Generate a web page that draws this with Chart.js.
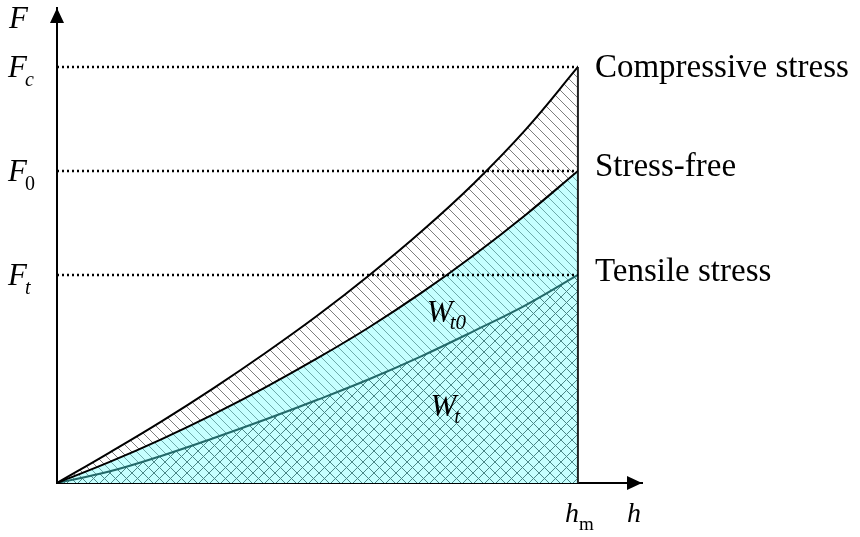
<!DOCTYPE html>
<html>
<head>
<meta charset="utf-8">
<script src="https://cdn.jsdelivr.net/npm/chart.js@4.4.0/dist/chart.umd.min.js"></script>
<style>
  html, body { margin: 0; padding: 0; background: #fff; }
</style>
</head>
<body>
<canvas id="chart" width="860" height="537"></canvas>
<script>
// indentation depth h (hm = 1) and load F
const depth = [0, 0.1, 0.2, 0.3, 0.4, 0.5, 0.6, 0.7, 0.8, 0.9, 1.0];
const compressive = [0, 0.29, 0.59, 0.91, 1.25, 1.61, 2.00, 2.42, 2.88, 3.40, 4.00];
const stressFree  = [0, 0.20, 0.42, 0.66, 0.92, 1.20, 1.50, 1.83, 2.19, 2.58, 3.00];
const tensile     = [0, 0.11, 0.26, 0.43, 0.61, 0.80, 1.00, 1.22, 1.46, 1.71, 2.00];

const hm = 1;
const levelValues = [4, 3, 2];            // Fc, F0, Ft
const levelSubs = ['c', '0', 't'];
const levelNames = ['Compressive stress', 'Stress-free', 'Tensile stress'];
const nameOffsets = [10, 5, 6];            // baseline shift of the names, px

const SERIF = '"Liberation Serif", "Times New Roman", serif';
const CYAN = 'rgb(198,255,255)';

function pts(ys) { return depth.map((x, i) => ({ x: x, y: ys[i] })); }

function hatch(ctx, bg, color, size, dirs, lw) {
  const c = document.createElement('canvas');
  c.width = size; c.height = size;
  const g = c.getContext('2d');
  if (bg) { g.fillStyle = bg; g.fillRect(0, 0, size, size); }
  g.strokeStyle = color;
  g.lineWidth = lw;
  for (const off of [-size, 0, size]) {
    if (dirs.includes('\\')) {
      g.beginPath(); g.moveTo(off, 0); g.lineTo(off + size, size); g.stroke();
    }
    if (dirs.includes('/')) {
      g.beginPath(); g.moveTo(off, size); g.lineTo(off + size, 0); g.stroke();
    }
  }
  return ctx.createPattern(c, 'repeat');
}

const canvas = document.getElementById('chart');
const ctx = canvas.getContext('2d');
const grayHatch = hatch(ctx, '#fff', 'rgb(125,125,125)', 10, '\\', 1);
const cyanHatch = hatch(ctx, CYAN, 'rgb(110,170,170)', 9, '\\', 1);
const cyanCross = hatch(ctx, CYAN, 'rgb(75,135,135)', 11, '\\/', 1);

function drawParts(c, parts, x, y) {
  let cx = x;
  for (const p of parts) {
    c.font = (p.it ? 'italic ' : '') + p.size + 'px ' + SERIF;
    c.fillText(p.t, cx, y + (p.dy || 0));
    cx += c.measureText(p.t).width + (p.gap || 0);
  }
}

const decor = {
  id: 'decor',
  afterDraw(chart) {
    const c = chart.ctx;
    const xs = chart.scales.x, ys = chart.scales.y;
    const x0 = xs.getPixelForValue(0), y0 = ys.getPixelForValue(0);
    c.save();
    c.fillStyle = '#000';
    // arrow heads
    c.beginPath();
    c.moveTo(x0, ys.top); c.lineTo(x0 - 7, ys.top + 15); c.lineTo(x0 + 7, ys.top + 15);
    c.closePath(); c.fill();
    c.beginPath();
    c.moveTo(xs.right, y0); c.lineTo(xs.right - 15, y0 - 7); c.lineTo(xs.right - 15, y0 + 7);
    c.closePath(); c.fill();

    c.textBaseline = 'alphabetic';
    c.textAlign = 'left';
    // axis names
    drawParts(c, [{ t: 'F', size: 31, it: true }], 9, 28);
    drawParts(c, [{ t: 'h', size: 28, it: true }], xs.right - 15, y0 + 39);
    drawParts(c, [{ t: 'h', size: 28, it: true }, { t: 'm', size: 19, dy: 8 }],
      xs.getPixelForValue(hm) - 13, y0 + 39);

    // force levels
    levelValues.forEach((v, i) => {
      const py = ys.getPixelForValue(v);
      drawParts(c, [{ t: 'F', size: 31, it: true, gap: -2 },
                    { t: levelSubs[i], size: 20, it: levelSubs[i] !== '0', dy: 9 }], 8, py + 10);
      c.font = '33px ' + SERIF;
      c.fillText(levelNames[i], xs.getPixelForValue(hm) + 17, py + nameOffsets[i]);
    });

    // work areas
    drawParts(c, [{ t: 'W', size: 31, it: true, gap: -3 }, { t: 't0', size: 21, it: true, dy: 7 }],
      xs.getPixelForValue(0.71), ys.getPixelForValue(1.55));
    drawParts(c, [{ t: 'W', size: 31, it: true, gap: -2 }, { t: 't', size: 21, it: true, dy: 7 }],
      xs.getPixelForValue(0.717), ys.getPixelForValue(0.64));
    c.restore();
  }
};

const curveBase = { pointRadius: 0, tension: 0.4, borderJoinStyle: 'round' };
const dotted = v => ({
  data: [{ x: 0, y: v }, { x: hm, y: v }],
  borderColor: '#000', borderWidth: 2.5, borderDash: [2, 3], pointRadius: 0, fill: false, order: 0
});

new Chart(ctx, {
  type: 'line',
  data: {
    datasets: [
      Object.assign({ data: pts(compressive), borderColor: '#000', borderWidth: 2,
        fill: '+1', backgroundColor: grayHatch, order: 1 }, curveBase),
      Object.assign({ data: pts(stressFree), borderColor: '#000', borderWidth: 2,
        fill: '+1', backgroundColor: cyanHatch, order: 1 }, curveBase),
      Object.assign({ data: pts(tensile), borderColor: 'rgb(35,105,105)', borderWidth: 2,
        fill: 'origin', backgroundColor: cyanCross, order: 1 }, curveBase),
      ...levelValues.map(dotted),
      { data: [{ x: hm, y: 0 }, { x: hm, y: levelValues[0] }], borderColor: '#222',
        borderWidth: 2, pointRadius: 0, fill: false, order: 0 }
    ]
  },
  options: {
    responsive: false,
    animation: false,
    layout: { padding: { left: 49, top: 8, right: 218, bottom: 46 } },
    plugins: {
      legend: { display: false },
      tooltip: { enabled: false },
      filler: { drawTime: 'beforeDatasetsDraw' }
    },
    scales: {
      x: {
        type: 'linear', min: 0, max: 1.123,
        grid: { display: false }, ticks: { display: false },
        border: { display: true, color: '#000', width: 2 }
      },
      y: {
        type: 'linear', min: 0, max: 4.567,
        grid: { display: false }, ticks: { display: false },
        border: { display: true, color: '#000', width: 2 }
      }
    }
  },
  plugins: [decor]
});
</script>
</body>
</html>
